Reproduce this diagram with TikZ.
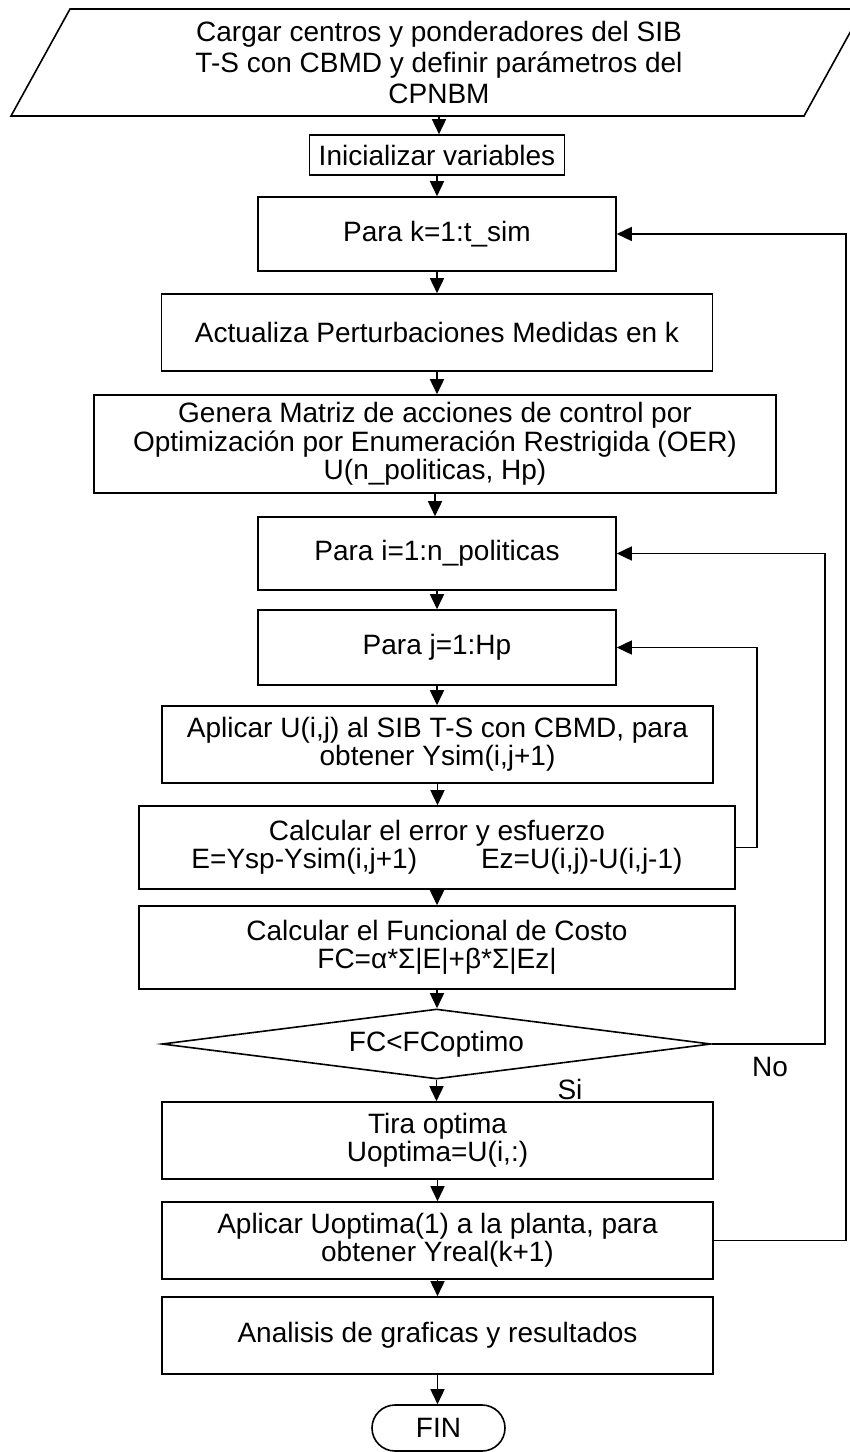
\documentclass[tikz,border=0pt]{standalone}
\usepackage{fontspec}
\setmainfont{Liberation Sans}
\usetikzlibrary{shapes.geometric, shapes.misc, arrows.meta, positioning, calc}

\begin{document}
\begin{tikzpicture}[x=0.5pt, y=-0.5pt, line width=0.8pt,
    >={Triangle[length=7.5pt,width=7pt]},
    txt/.style={align=center, inner sep=0pt, font=\fontsize{14}{14.2}\selectfont},
    box/.style={txt, draw, rectangle},
    cond/.style={txt, draw, diamond, aspect=7},
    term/.style={txt, draw, rounded rectangle}]
\useasboundingbox (0,0) rectangle (850,1452);

% Data input (runs past the right edge)
\draw (70,9) -- (863,9) -- (804,116) -- (11,116) -- cycle;
\node[txt, minimum height=53.5pt, font=\fontsize{14}{15.5}\selectfont] (load) at (439,62.5)
    {Cargar centros y ponderadores del SIB\\T-S con CBMD y definir parámetros del\\CPNBM};

% Main sequence
\node[box, minimum width=127.5pt, minimum height=20pt] (init) at (437,155) {Inicializar variables};
\node[box, minimum width=179pt, minimum height=37pt] (parak) at (437,234) {Para k=1:t\_sim};
\node[box, minimum width=275.5pt, minimum height=38.5pt] (act) at (437,332.5) {Actualiza Perturbaciones Medidas en k};
\node[box, minimum width=341pt, minimum height=49pt] (gen) at (435,444)
    {Genera Matriz de acciones de control por\\Optimización por Enumeración Restrigida (OER)\\U(n\_politicas, Hp)};
\node[box, minimum width=179pt, minimum height=36.5pt] (parai) at (437,553.5) {Para i=1:n\_politicas};
\node[box, minimum width=179pt, minimum height=37.5pt] (paraj) at (437,647.5) {Para j=1:Hp};
\node[box, minimum width=275.5pt, minimum height=38.5pt] (apl) at (437.5,744.5)
    {Aplicar U(i,j) al SIB T-S con CBMD, para\\obtener Ysim(i,j+1)};
\node[box, minimum width=298pt, minimum height=41.5pt] (err) at (437,847.5)
    {Calcular el error y esfuerzo\\E=Ysp-Ysim(i,j+1)\hspace{32pt}Ez=U(i,j)-U(i,j-1)};
\node[box, minimum width=298pt, minimum height=41.5pt] (fun) at (437,947.5)
    {Calcular el Funcional de Costo\\FC=α*Σ|E|+β*Σ|Ez|};
\node[cond, minimum width=274.5pt, minimum height=35pt] (dec) at (436.5,1044) {FC<FCoptimo};
\node[box, minimum width=275.5pt, minimum height=38.5pt] (tira) at (437.5,1140.5)
    {Tira optima\\Uoptima=U(i,:)};
\node[box, minimum width=275.5pt, minimum height=38.5pt] (aplu) at (437.5,1240.5)
    {Aplicar Uoptima(1) a la planta, para\\obtener Yreal(k+1)};
\node[box, minimum width=275.5pt, minimum height=38.5pt] (anal) at (437.5,1335.5)
    {Analisis de graficas y resultados};
\node[term, minimum width=66.5pt, minimum height=23pt] (fin) at (438.5,1428) {FIN};

% Branch labels
\node[txt] (no) at (770,1067) {No};
\node[txt] (si) at (570,1089) {Si};

% Downward flow
\foreach \a/\b in {load/init, init/parak, parak/act, act/gen, gen/parai, parai/paraj,
    paraj/apl, apl/err, err/fun, fun/dec, dec/tira, tira/aplu, aplu/anal, anal/fin}
  \draw[->] (\a.south) -- (\a.south |- \b.north);

% Loops back
\draw[->] (err.east) -- ++(21,0) |- (paraj.east);
\draw[->] (dec.east) -- ++(113,0) |- (parai.east);
\draw[->] (aplu.east) -- ++(132,0) |- (parak.east);
\end{tikzpicture}
\end{document}
